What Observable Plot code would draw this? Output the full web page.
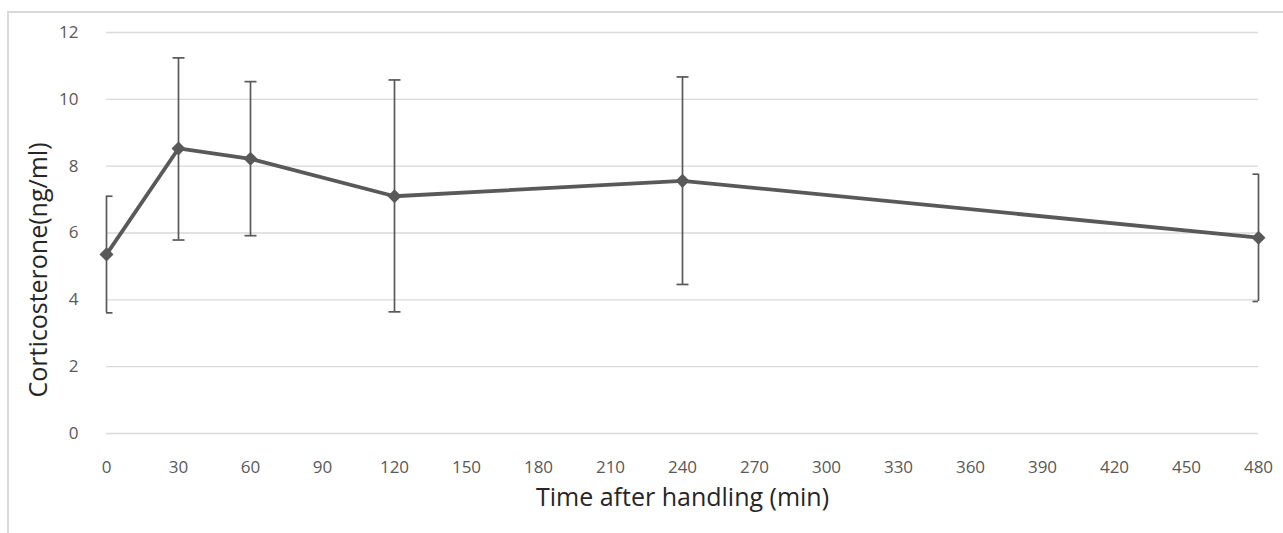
<!DOCTYPE html>
<html>
<head>
<meta charset="utf-8">
<script src="https://cdn.jsdelivr.net/npm/d3@7"></script>
<script src="https://cdn.jsdelivr.net/npm/@observablehq/plot@0.6"></script>
<style>
  html, body { margin: 0; padding: 0; background: #fff; }
  #wrap { position: relative; width: 1283px; height: 533px; overflow: hidden; }
  #border { position: absolute; left: 7px; top: 11px; width: 1290px; height: 540px;
            border-left: 2px solid #d9d9d9; border-top: 2px solid #d9d9d9; box-sizing: border-box; }
  #chart { position: absolute; left: 0; top: 0; }
</style>
</head>
<body>
<div id="wrap"><div id="border"></div><div id="chart"></div></div>
<script>
const times = [0, 30, 60, 120, 240, 480];
const means = [5.36, 8.53, 8.22, 7.10, 7.56, 5.86];
const upper = [7.10, 11.24, 10.53, 10.58, 10.67, 7.76];
const lower = [3.61, 5.79, 5.92, 3.64, 4.46, 3.95];
const xTicks = d3.range(0, 481, 30);
const yTicks = [0, 2, 4, 6, 8, 10, 12];
const xTitle = "Time after handling (min)";
const yTitle = "Corticosterone(ng/ml)";

const data = times.map((t, i) => ({t, m: means[i], hi: upper[i], lo: lower[i]}));

const hline = {
  draw(ctx, size) {
    const r = Math.sqrt(size / Math.PI);
    ctx.moveTo(-r, 0);
    ctx.lineTo(r, 0);
  }
};

const ink = "#595959";
const font = "'Open Sans', 'Noto Sans', sans-serif";

const chart = Plot.plot({
  width: 1283,
  height: 533,
  marginLeft: 106,
  marginRight: 25,
  marginTop: 32,
  marginBottom: 100,
  style: {fontFamily: font, fontSize: "17px", color: ink, background: "transparent"},
  x: {domain: [0, 480], label: null},
  y: {domain: [0, 12], label: null},
  marks: [
    Plot.gridY(yTicks, {stroke: "#d9d9d9", strokeOpacity: 1, strokeWidth: 1.3}),
    Plot.ruleX(data, {x: "t", y1: "lo", y2: "hi", stroke: ink, strokeWidth: 1.7}),
    Plot.dot(data, {x: "t", y: "hi", symbol: hline, r: 6, stroke: ink, strokeWidth: 1.7, fill: "none", clip: true}),
    Plot.dot(data, {x: "t", y: "lo", symbol: hline, r: 6, stroke: ink, strokeWidth: 1.7, fill: "none", clip: true}),
    Plot.line(data, {x: "t", y: "m", stroke: ink, strokeWidth: 3.8}),
    Plot.dot(data, {x: "t", y: "m", symbol: "square", r: 5.6, rotate: 45, fill: ink, stroke: "none"}),
    Plot.axisX({ticks: xTicks, tickSize: 0, tickPadding: 27, fill: ink, fontSize: 17}),
    Plot.axisY({ticks: yTicks, tickSize: 0, tickPadding: 28, fill: ink, fontSize: 17}),
    Plot.text([xTitle], {frameAnchor: "bottom", dy: 64, textAnchor: "middle", lineAnchor: "middle", fill: "#262626", fontSize: 25, fontFamily: font}),
    Plot.text([yTitle], {frameAnchor: "left", dx: -68, dy: 37, textAnchor: "middle", lineAnchor: "middle", rotate: -90, fill: "#262626", fontSize: 25, fontFamily: font})
  ]
});
document.getElementById("chart").appendChild(chart);
</script>
</body>
</html>
